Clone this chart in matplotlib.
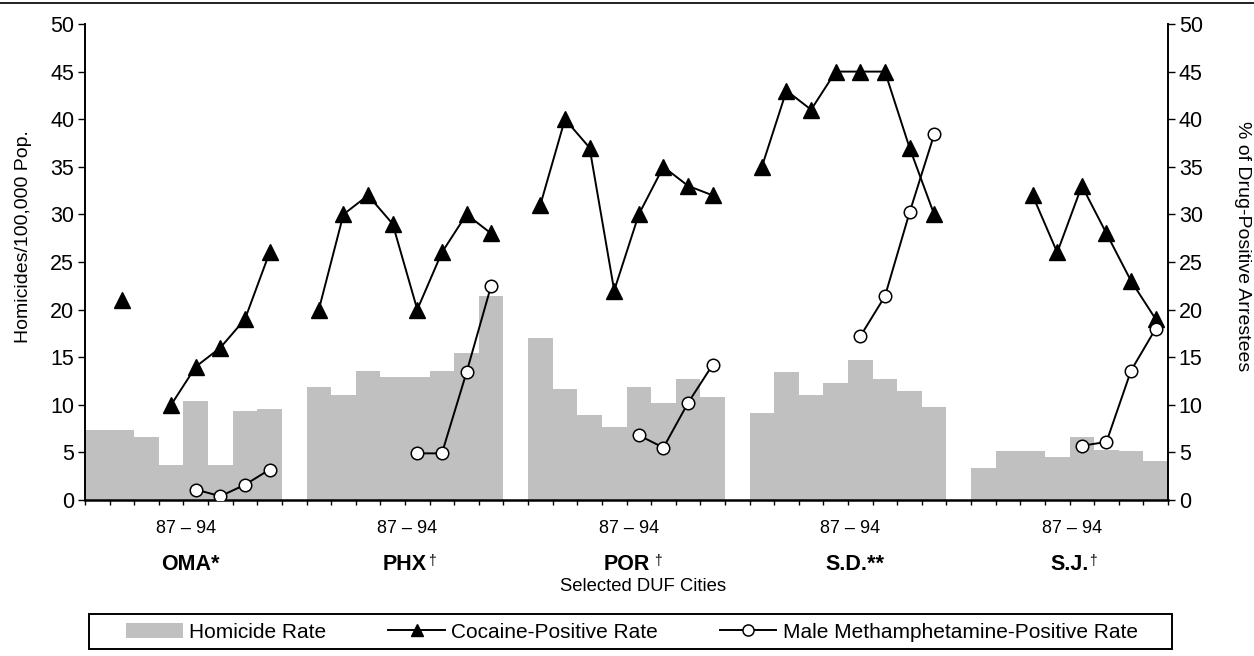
import matplotlib
matplotlib.use('Agg')
import matplotlib.pyplot as plt
import matplotlib.transforms as mtransforms
import numpy as np
from matplotlib.lines import Line2D
from matplotlib.patches import Patch, Rectangle

plt.rcParams['font.family'] = ['Liberation Sans', 'DejaVu Sans']

# ---------------- data ----------------
cities = ['OMA*', 'PHX', 'POR', 'S.D.**', 'S.J.']
city_dagger = [False, True, True, False, True]
year_label = '87 – 94'

# homicides per 100,000 population, years 1987..1994 per city
homicide_rate = [
    7.4, 7.4, 6.6, 3.7, 10.4, 3.7, 9.3, 9.6,        # OMA
    11.9, 11.0, 13.5, 12.9, 12.9, 13.5, 15.4, 21.4,  # PHX
    17.0, 11.7, 8.9, 7.7, 11.9, 10.2, 12.7, 10.8,    # POR
    9.1, 13.4, 11.0, 12.3, 14.7, 12.7, 11.4, 9.8,    # S.D.
    3.4, 5.1, 5.1, 4.5, 6.6, 5.3, 5.1, 4.1,          # S.J.
]
# % cocaine-positive arrestees (None = no data)
cocaine_rate = [
    None, 21, None, 10, 14, 16, 19, 26,
    20, 30, 32, 29, 20, 26, 30, 28,
    31, 40, 37, 22, 30, 35, 33, 32,
    35, 43, 41, 45, 45, 45, 37, 30,
    None, None, 32, 26, 33, 28, 23, 19,
]
# % male methamphetamine-positive arrestees
meth_rate = [
    None, None, None, None, 1.1, 0.4, 1.6, 3.2,
    None, None, None, None, 4.9, 4.9, 13.4, 22.5,
    None, None, None, None, 6.8, 5.5, 10.2, 14.2,
    None, None, None, None, 17.2, 21.4, 30.2, 38.4,
    None, None, None, None, 5.7, 6.1, 13.6, 18.0,
]

n_years = 8
n_slots = len(cities) * (n_years + 1) - 1
slots = [g * (n_years + 1) + j for g in range(len(cities)) for j in range(n_years)]


def to_slots(vals):
    arr = np.full(n_slots, np.nan)
    for s, v in zip(slots, vals):
        if v is not None:
            arr[s] = v
    return arr


W, H = 1254, 656
fig = plt.figure(figsize=(W / 100, H / 100), dpi=100)
ax = fig.add_axes([85 / W, 1 - 500 / H, (1168 - 85) / W, 476 / H])

ax.bar(slots, homicide_rate, width=1.0, color='#C0C0C0', linewidth=0, zorder=1)
ax.set_xlim(-0.5, n_slots - 0.5)
ax.set_ylim(0, 50)

ax2 = ax.twinx()
ax2.set_ylim(0, 50)
xs = np.arange(n_slots)
ax2.plot(xs, to_slots(cocaine_rate), color='black', lw=1.4, marker='^', ms=11,
         mfc='black', mec='black', zorder=3)
ax2.plot(xs, to_slots(meth_rate), color='black', lw=1.4, marker='o', ms=9,
         mfc='white', mec='black', mew=1.1, zorder=4)

# spines
for a in (ax, ax2):
    a.spines['top'].set_visible(False)
ax2.spines['left'].set_visible(False)
ax2.spines['bottom'].set_visible(False)
ax.spines['right'].set_visible(False)
ax.spines['left'].set_linewidth(1.4)
ax.spines['bottom'].set_linewidth(1.8)
ax2.spines['right'].set_linewidth(1.4)

ax.set_xticks(np.arange(-0.5, n_slots, 1.0))
ax.set_xticklabels([])
ax.tick_params(axis='x', direction='out', length=3.4, width=1.0)
yt = list(range(0, 51, 5))
ax.set_yticks(yt)
ax2.set_yticks(yt)
ax.tick_params(axis='y', direction='out', length=4.8, width=1.0, labelsize=15.5, pad=3)
ax2.tick_params(axis='y', direction='out', length=4.8, width=1.0, labelsize=15.5, pad=3)

# group labels under the axis
trans = mtransforms.blended_transform_factory(ax.transData, fig.transFigure)
for g, name in enumerate(cities):
    c = g * (n_years + 1) + (n_years - 1) / 2
    ax.text(c + 0.1, 1 - 533 / H, year_label, ha='center', va='baseline',
            fontsize=13, transform=trans)
    t = ax.text(c + (0.0 if city_dagger[g] else 0.3), 1 - 570 / H, name,
                ha='center', va='baseline', fontsize=15.5, fontweight='bold',
                transform=trans)
    if city_dagger[g]:
        off = 3.5 if name == 'POR' else 0.5
        ax.annotate('†', xy=(1, 1), xycoords=t, xytext=(off, 0),
                    textcoords='offset points', ha='left', va='top', fontsize=10)

fig.text(643 / W, 1 - 591 / H, 'Selected DUF Cities', ha='center', va='baseline',
         fontsize=13.3)

fig.text(24 / W, 1 - 237 / H, 'Homicides/100,000 Pop.', rotation=90,
         ha='center', va='center', fontsize=14)
fig.text(1242 / W, 1 - 246 / H, '% of Drug-Positive Arrestees', rotation=270,
         ha='center', va='center', fontsize=14)

# legend
handles = [
    Patch(facecolor='#C0C0C0', edgecolor='none'),
    Line2D([], [], color='black', lw=1.4, marker='^', ms=9, mfc='black', mec='black'),
    Line2D([], [], color='black', lw=1.4, marker='o', ms=8, mfc='white', mec='black', mew=1.1),
]
labels = ['Homicide Rate', 'Cocaine-Positive Rate', 'Male Methamphetamine-Positive Rate']
fig.legend(handles, labels, loc='center', bbox_to_anchor=(632 / W, 1 - 632 / H),
           ncol=3, frameon=False, fontsize=15, handlelength=2.7, handletextpad=0.3,
           columnspacing=3.0, borderpad=0.0)
fig.add_artist(Rectangle((89 / W, 1 - 649 / H), (1172 - 89) / W, 35 / H,
                         transform=fig.transFigure, fill=False, edgecolor='black',
                         lw=1.4))

# top border line
fig.add_artist(Line2D([0, 1], [1 - 3 / H, 1 - 3 / H], transform=fig.transFigure,
                      color='#222222', lw=1.4))

fig.savefig('out.png', dpi=100)
